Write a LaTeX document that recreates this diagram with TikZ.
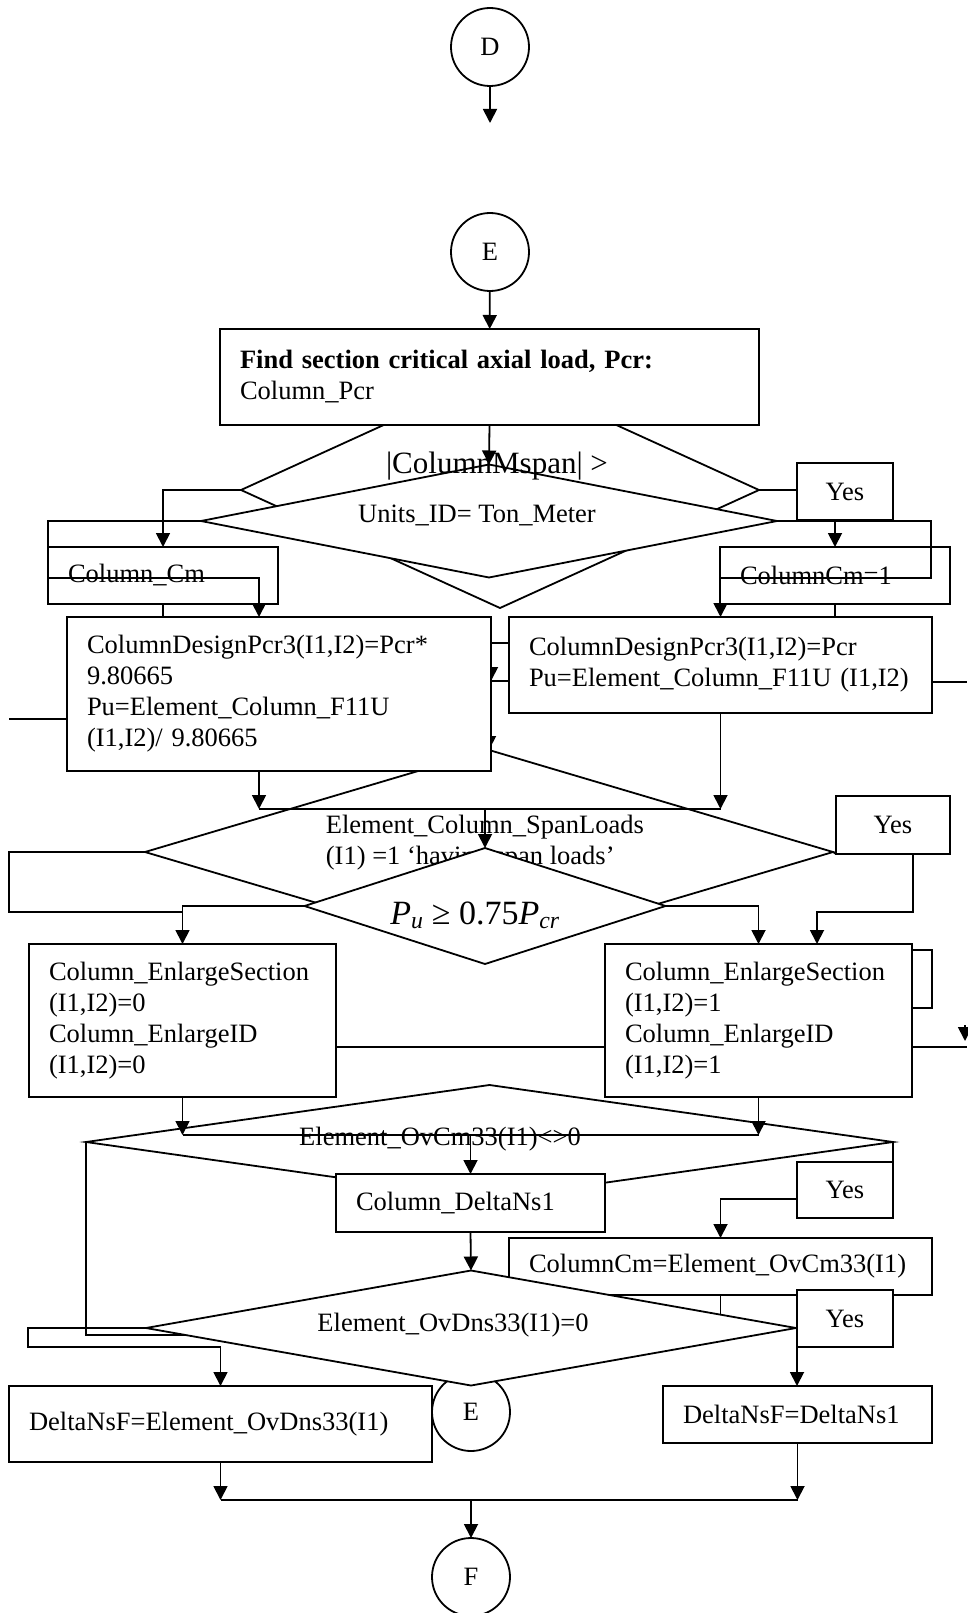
\documentclass[tikz,border=0pt]{standalone}
\usepackage{fontspec}
\setmainfont{Liberation Serif}
\usetikzlibrary{shapes.geometric, arrows.meta}

\begin{document}
\begin{tikzpicture}[
	x=1pt, y=-1pt,
	line width=1.8pt,
	font=\fontsize{26.5}{31}\selectfont,
	box/.style={
		draw, fill=white, rectangle, align=left,
		inner xsep=20pt, inner ysep=3pt, outer sep=0pt
	},
	yesbox/.style={draw, fill=white, rectangle, minimum width=96pt, minimum height=57pt, inner sep=0pt, outer sep=0pt},
	dia/.style={draw, fill=white, diamond, inner sep=0pt, outer sep=0pt},
	conn/.style={draw, fill=white, circle, minimum size=78pt, inner sep=0pt, outer sep=0pt},
	arr/.style={-{Triangle[length=14pt, width=14pt]}},
	lbl/.style={inner sep=0pt, align=left},
	]
	\useasboundingbox (0,0) rectangle (967,1613);
	
	% off-page connectors
	\node[conn] (D) at (490,47) {D};
	\coordinate (Dout) at (490,123);
	\draw[arr] (D) -- (Dout);
	\node[conn] (E) at (490,252) {E};
	
	% Pcr and the units test
	\node[dia, minimum width=518pt, minimum height=236pt] (mspan) at (500,490) {};
	\node[box, text width=499pt, minimum height=96pt] (pcr) at (489.5,377) {\textbf{Find section critical axial load, Pcr:}\\Column\_Pcr};
	\draw[arr] (E) -- (pcr);
	\node[dia, minimum width=576pt, minimum height=113pt] (units) at (489,521) {};
	\draw[arr] (pcr.south) -- (units.north);
	\node[lbl] (mspantxt) at (497,466) {\fontsize{31}{36}\selectfont|ColumnMspan| >};
	\node[lbl] (unitstxt) at (477,515) {Units\_ID= Ton\_Meter};
	
	\node[box, text width=190pt, minimum height=57pt] (cmA) at (163,575.5) {Column\_Cm};
	\node[box, text width=190pt, minimum height=57pt] (cmB) at (835,575.5) {ColumnCm=1};
	\node[yesbox] (yesA) at (845,491.5) {Yes};
	\draw[arr] (mspan.west) -| (cmA.north);
	\draw (mspan.east) -- (mspan.east -| yesA.west);
	\draw[arr] (cmB.north |- yesA.south) -- (cmB.north);
	
	% span loads test (partly under the boxes)
	\node[dia, minimum width=688pt, minimum height=204pt] (spanl) at (489,852) {};
	\node[lbl, anchor=west] (spantxt) at (325,843) {Element\_Column\_SpanLoads\\(I1) =1 ‘having span loads’};
	\coordinate (gapT) at (491,643);
	\coordinate (gapB) at (491,681);
	\draw[arr] (gapT) -- (gapB);
	\draw[arr] (spanl.north |- 0,713) -- (spanl.north);
	
	\node[box, text width=384pt, minimum height=154pt] (pcrA) at (279,694) {ColumnDesignPcr3(I1,I2)=Pcr*\\9.80665\\Pu=Element\_Column\_F11U\\(I1,I2)/ 9.80665};
	\node[box, text width=383pt, minimum height=96pt] (pcrB) at (720.5,665) {ColumnDesignPcr3(I1,I2)=Pcr\\Pu=Element\_Column\_F11U (I1,I2)};
	\draw (gapT -| pcrA.east) -- (gapT -| pcrB.west);
	\draw (gapB -| pcrA.east) -- (gapB -| pcrB.west);
	
	\coordinate (cmAk) at (48,578);
	\coordinate (cmBk) at (931,578);
	\draw[arr] (units.west) -| (cmAk) -| ([xshift=-20pt]pcrA.north);
	\draw (cmA.south) -- (cmA.south |- pcrA.north);
	\draw[arr] (units.east) -| (cmBk) -| (pcrB.north);
	\draw (cmB.south) -- (cmB.south |- pcrB.north);
	\coordinate (offA) at (9,719);
	\draw (offA) -- (offA -| pcrA.west);
	\coordinate (offB) at (967,682);
	\draw (offB -| pcrB.east) -- (offB);
	
	% Pu >= 0.75 Pcr
	\coordinate (jA) at (259,809);
	\draw[arr] (jA |- pcrA.south) -- (jA);
	\draw[arr] (pcrB.south) -- (pcrB.south |- jA);
	\draw (jA) -- (jA -| pcrB.south);
	\node[dia, minimum width=361pt, minimum height=116pt] (pu) at (485,906) {};
	\draw[arr] (pu.north |- jA) -- (pu.north);
	\node[lbl] (putxt) at (475,915) {\fontsize{34}{40}\selectfont\textit{P}\textsubscript{\textit{u}} ≥ 0.75\textit{P}\textsubscript{\textit{cr}}};
	
	\node[box, text width=267pt, minimum height=153pt] (enA) at (182.5,1020.5) {Column\_EnlargeSection\\(I1,I2)=0\\Column\_EnlargeID\\(I1,I2)=0};
	\node[box, text width=267pt, minimum height=153pt] (enB) at (758.5,1020.5) {Column\_EnlargeSection\\(I1,I2)=1\\Column\_EnlargeID\\(I1,I2)=1};
	\node[yesbox, minimum width=114pt, minimum height=58pt] (yesB) at (893,825) {Yes};
	\coordinate (kA) at (9,912);
	\draw (spanl.west) -| (kA) -- (kA -| enA.north);
	\draw[arr] (pu.west) -| (enA.north);
	\draw (spanl.east) -- (yesB.south west);
	\coordinate (kB) at (817,912);
	\draw[arr] ([xshift=20pt]yesB.south) |- (kB) -- (kB |- enB.north);
	\draw[arr] (pu.east) -| (enB.north);
	
	\coordinate (brT) at (932,950);
	\coordinate (brB) at (932,1008);
	\draw (brT -| enB.east) -- (brT) -- (brB) -- (brB -| enB.east);
	\coordinate (midE) at (500,1047);
	\draw (midE -| enA.east) -- (midE -| enB.west);
	\coordinate (edgeR) at (967,1047);
	\draw (edgeR -| enB.east) -- (edgeR);
	\coordinate (edgeT) at (965,1025);
	\coordinate (edgeB) at (965,1041);
	\draw[arr] (edgeT) -- (edgeB);
	
	% moment checks
	\node[dia, minimum width=807pt, minimum height=114pt] (ovcm) at (489.5,1142) {};
	\node[lbl] (ovcmtxt) at (440,1139) {Element\_OvCm33(I1)<>0};
	\coordinate (jB) at (182.5,1135);
	\draw[arr] (enA.south) -- (jB);
	\draw[arr] (enB.south) -- (enB.south |- jB);
	\draw (jB) -- (jB -| enB.south);
	\node[box, text width=229pt, minimum height=58pt] (dns) at (470.5,1203) {Column\_DeltaNs1};
	\draw[arr] (dns.north |- jB) -- (dns.north);
	\coordinate (kC) at (250,1335);
	\draw (ovcm.west) |- (kC);
	\node[yesbox, minimum height=56pt] (yesC) at (845,1190) {Yes};
	\draw (ovcm.east) -- (yesC.north east);
	\node[box, text width=383pt, minimum height=57pt] (cmEl) at (720.5,1266.5) {ColumnCm=Element\_OvCm33(I1)};
	\draw[arr] ([yshift=-9pt]yesC.west) -| (cmEl.north);
	\coordinate (kD) at (720.5,1330);
	\draw (cmEl.south) -- (kD);
	
	\node[conn] (E2) at (471,1412) {E};
	\node[dia, minimum width=650pt, minimum height=115pt] (ovdns) at (471,1328) {};
	\node[lbl] (ovdnstxt) at (453,1325) {Element\_OvDns33(I1)=0};
	\draw[arr] (dns.south) -- (ovdns.north);
	\node[yesbox] (yesD) at (845,1318.5) {Yes};
	
	\node[box, text width=383pt, minimum height=76pt] (nsfA) at (220.5,1424) {DeltaNsF=Element\_OvDns33(I1)};
	\node[box, text width=229pt, minimum height=57pt] (nsfB) at (797.5,1414.5) {DeltaNsF=DeltaNs1};
	\coordinate (kE) at (28,1347);
	\draw[arr] (ovdns.west) -| (kE) -| (nsfA.north);
	\draw[arr] (yesD.south west) -- (yesD.south west |- nsfB.north);
	
	\coordinate (jC) at (471,1500);
	\node[conn] (F) at (471,1577) {F};
	\draw[arr] (nsfA.south) -- (nsfA.south |- jC);
	\draw[arr] (nsfB.south) -- (nsfB.south |- jC);
	\draw (nsfA.south |- jC) -- (nsfB.south |- jC);
	\draw[arr] (jC) -- (F);
	
\end{tikzpicture}
\end{document}
